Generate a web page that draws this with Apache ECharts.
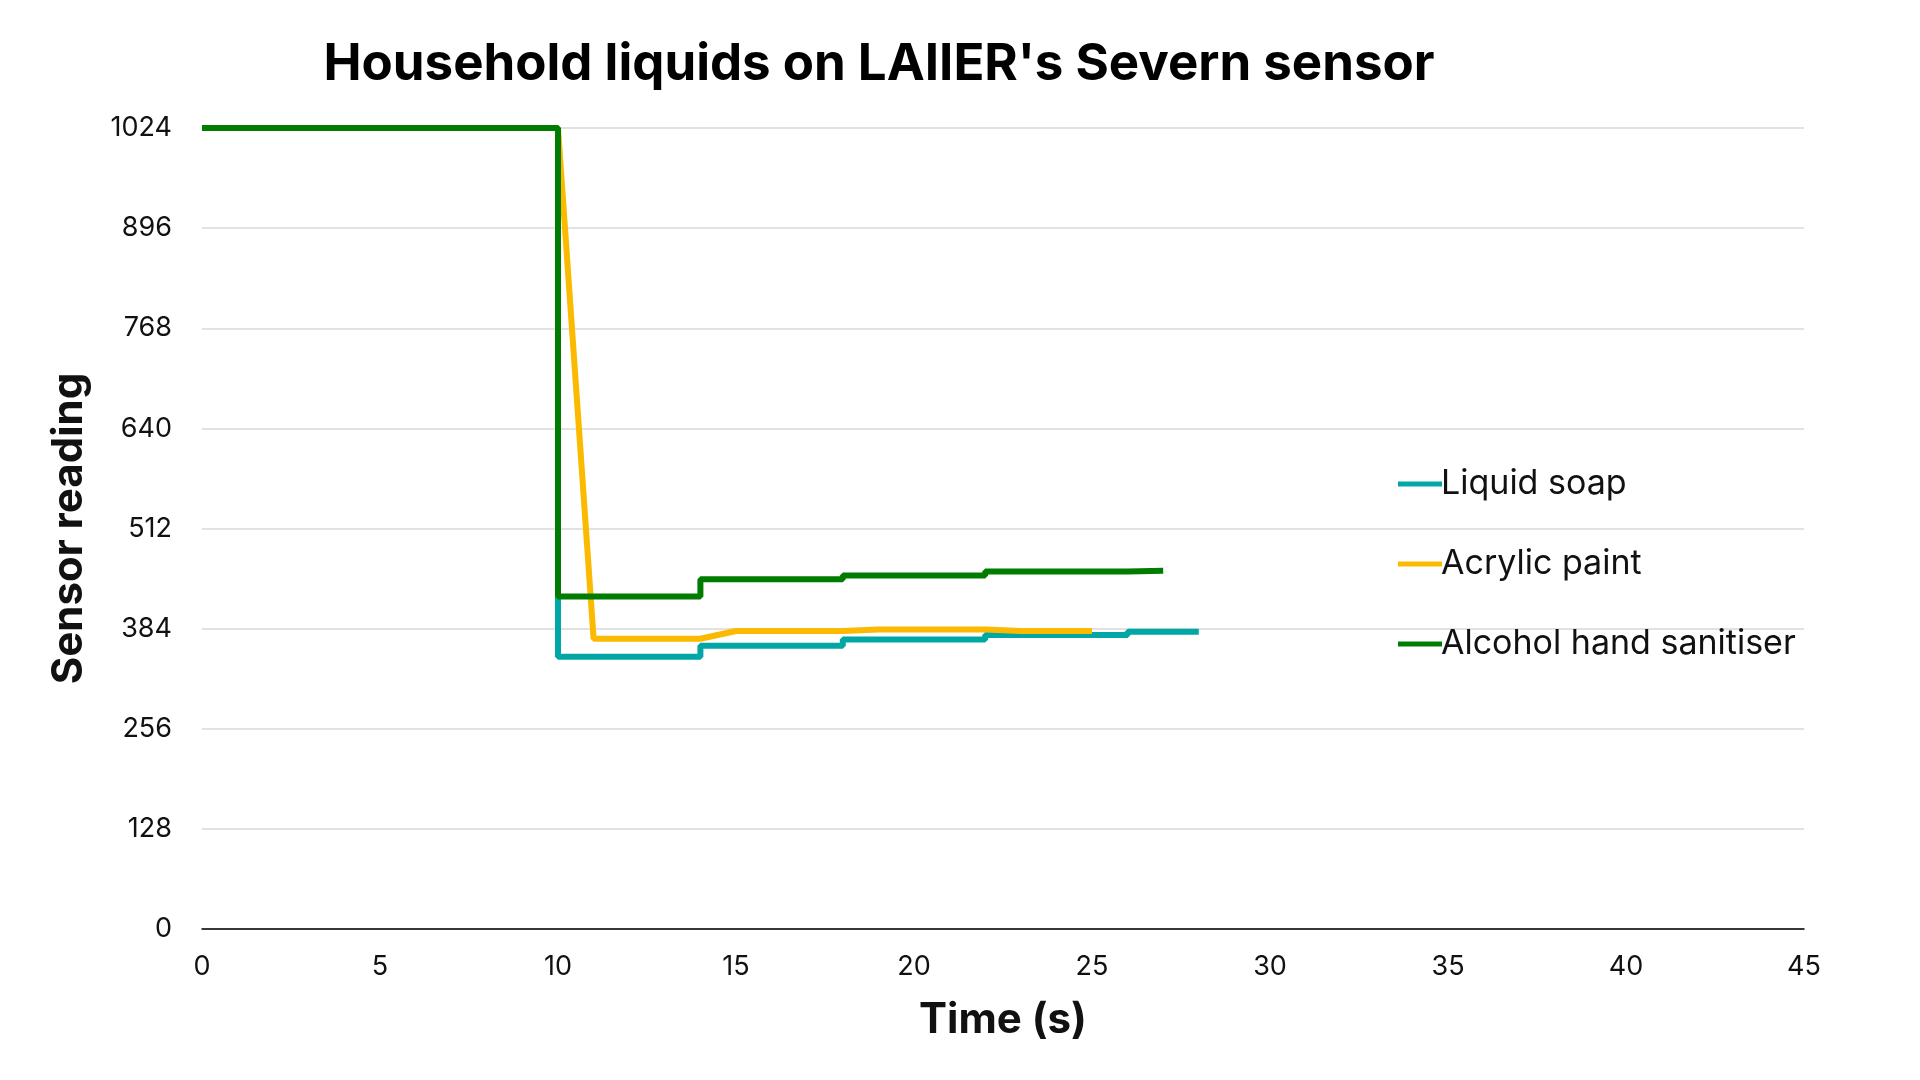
<!DOCTYPE html>
<html><head><meta charset="utf-8">
<script src="https://cdn.jsdelivr.net/npm/echarts@6/dist/echarts.min.js"></script>
<style>html,body{margin:0;padding:0;background:#fff}#c{width:1920px;height:1080px}</style>
</head><body><div id="c"></div>
<script>
const seriesNames = ["Liquid soap", "Acrylic paint", "Alcohol hand sanitiser"];
const soapData = [[0,1024],[9,1024],[10,348],[13,348],[14,362],[17,362],[18,370],[21,370],[22,376],[25,376],[26,380],[28,380]];
const paintData = [[0,1024],[10,1024],[11,371],[14,371],[15,381],[18,381],[19,383],[22,383],[23,381],[25,381]];
const sanitiserData = [[0,1024],[9,1024],[10,425],[13,425],[14,447],[17,447],[18,452],[21,452],[22,457],[25,457],[26,458],[27,458]];
const colors = ["#00a7a5", "#fbb900", "#007d00"];

const chart = echarts.init(document.getElementById('c'));
const font = 'Inter';
chart.setOption({
  textStyle:{fontFamily:font},
  title:{text:"Household liquids on LAIIER's Severn sensor", left:874, top:34, textAlign:'center',
    textStyle:{fontFamily:font, fontSize:51, fontWeight:'bold', color:'#000'}},
  grid:{left:202, right:116, top:128, bottom:151},
  legend:{orient:'vertical', left:1393, top:462, itemGap:46, itemWidth:44, itemHeight:5,
    icon:'rect', textStyle:{fontFamily:font, fontSize:34, color:'#111', padding:[0,0,0,-6]},
    data:seriesNames},
  xAxis:{type:'value', min:0, max:45, interval:5, name:'Time (s)', nameLocation:'middle', nameGap:70,
    nameTextStyle:{fontFamily:font, fontSize:42, fontWeight:'bold', color:'#111'},
    axisLine:{lineStyle:{color:'#000', width:1.5}}, axisTick:{show:false},
    axisLabel:{fontFamily:font, fontSize:27, color:'#111', margin:24}, splitLine:{show:false}},
  yAxis:{type:'value', min:0, max:1024, interval:128, name:'Sensor reading', nameLocation:'middle', nameGap:112,
    nameTextStyle:{fontFamily:font, fontSize:42, fontWeight:'bold', color:'#111'},
    axisLine:{show:false}, axisTick:{show:false},
    axisLabel:{fontFamily:font, fontSize:27, color:'#111', margin:30, formatter:v=>String(v)},
    splitLine:{lineStyle:{color:'#d9d9d9', width:1.5}}},
  series:[
    {name:seriesNames[0], type:'line', step:'end', data:soapData, showSymbol:false, color:colors[0], lineStyle:{width:6}, z:1},
    {name:seriesNames[1], type:'line', data:paintData, showSymbol:false, color:colors[1], lineStyle:{width:6}, z:2},
    {name:seriesNames[2], type:'line', step:'end', data:sanitiserData, showSymbol:false, color:colors[2], lineStyle:{width:6}, z:3}
  ]
});
</script></body></html>
